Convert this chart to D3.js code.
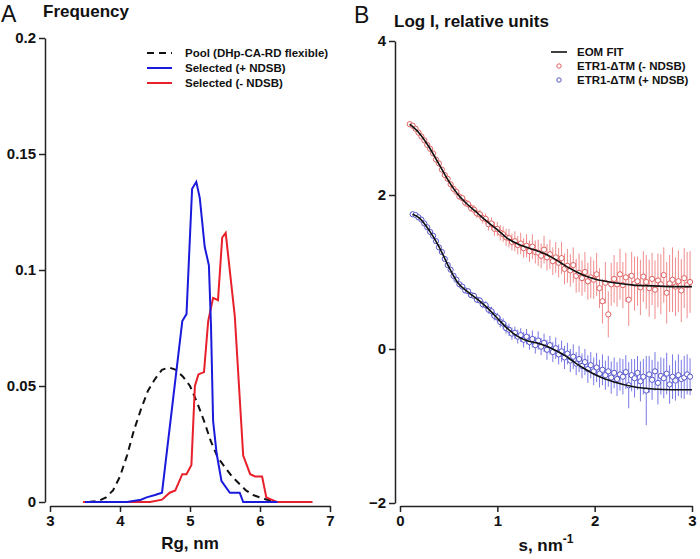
<!DOCTYPE html>
<html><head><meta charset="utf-8">
<script src="https://cdn.jsdelivr.net/npm/d3@7"></script>
<style>html,body{margin:0;padding:0;background:#fff;}svg{display:block;font-family:"Liberation Sans",Arial,sans-serif;}</style>
</head><body>
<script>
// ---- Panel A data ----
const poolRg   = [3.55,3.7,3.8,3.9,4.0,4.1,4.2,4.3,4.4,4.5,4.6,4.7,4.8,4.9,5.0,5.1,5.2,5.3,5.4,5.5,5.6,5.7,5.8,5.9,6.0,6.1,6.2];
const poolFreq = [0,0.0005,0.002,0.005,0.011,0.020,0.031,0.040,0.048,0.053,0.057,0.058,0.057,0.054,0.050,0.043,0.035,0.026,0.019,0.015,0.011,0.008,0.005,0.003,0.002,0.001,0.0005];
const plusRg   = [3.5,3.8,4.1,4.3,4.38,4.5,4.6,4.89,4.95,5.03,5.09,5.14,5.21,5.27,5.30,5.33,5.38,5.45,5.57,5.71,5.76,5.9,6.1,6.25];
const plusFreq = [0,0,0,0.001,0.002,0.003,0.004,0.078,0.081,0.135,0.138,0.131,0.110,0.102,0.076,0.035,0.021,0.009,0.004,0.004,0,0,0,0];
const minusRg  = [3.47,4.0,4.43,4.6,4.71,4.79,4.89,4.95,5.02,5.07,5.12,5.2,5.26,5.33,5.4,5.46,5.51,5.64,5.76,5.86,5.93,6.03,6.09,6.24,6.75];
const minusFreq= [0,0,0,0.001,0.004,0.005,0.012,0.012,0.016,0.050,0.055,0.056,0.078,0.088,0.087,0.114,0.116,0.080,0.020,0.012,0.011,0.011,0.002,0,0];
const freqTicks = [0,0.05,0.1,0.15,0.2];
const freqTickLabels = ["0","0.05","0.1","0.15","0.2"];
const rgTicks = [3,4,5,6,7];
const legendA = ["Pool (DHp-CA-RD flexible)","Selected (+ NDSB)","Selected (- NDSB)"];

// ---- Panel B data ----
const sGrid = [0.10,0.13,0.16,0.19,0.22,0.25,0.28,0.31,0.34,0.37,
0.40,0.43,0.46,0.49,0.52,0.55,0.58,0.61,0.64,0.67,
0.70,0.73,0.76,0.79,0.82,0.85,0.88,0.91,0.94,0.97,
1.00,1.03,1.06,1.09,1.12,1.15,1.18,1.21,1.24,1.27,
1.30,1.33,1.36,1.39,1.42,1.45,1.48,1.51,1.54,1.57,
1.60,1.63,1.66,1.69,1.72,1.75,1.78,1.81,1.84,1.87,
1.90,1.93,1.96,1.99,2.02,2.05,2.08,2.11,2.14,2.17,
2.20,2.23,2.26,2.29,2.32,2.35,2.38,2.41,2.44,2.47,
2.50,2.53,2.56,2.59,2.62,2.65,2.68,2.71,2.74,2.77,
2.80,2.83,2.86,2.89,2.92,2.95,2.98];
const redI = [2.92,2.90,2.86,2.81,2.76,2.71,2.65,2.60,2.54,2.46,
2.41,2.33,2.26,2.21,2.14,2.08,2.04,1.98,1.96,1.90,
1.88,1.83,1.81,1.76,1.75,1.70,1.69,1.62,1.63,1.56,
1.56,1.51,1.49,1.45,1.44,1.39,1.40,1.35,1.37,1.31,
1.34,1.27,1.33,1.26,1.25,1.21,1.29,1.19,1.23,1.14,
1.19,1.12,1.18,1.04,1.08,1.02,1.09,0.95,0.99,0.92,
1.00,0.88,0.93,0.90,0.97,0.79,0.62,0.86,0.45,0.84,
0.91,0.84,0.97,0.83,0.93,0.64,0.95,0.85,0.88,0.80,
0.94,0.87,0.79,0.91,0.77,0.89,0.84,0.96,0.73,0.85,
0.90,0.81,0.88,0.76,0.92,0.83,0.87];
const redErr = [0.02,0.02,0.02,0.02,0.02,0.02,0.02,0.03,0.03,0.03,
0.03,0.03,0.03,0.03,0.03,0.04,0.04,0.04,0.04,0.05,
0.05,0.05,0.06,0.06,0.06,0.07,0.07,0.08,0.08,0.09,
0.09,0.10,0.10,0.11,0.12,0.11,0.13,0.12,0.14,0.13,
0.15,0.14,0.16,0.15,0.17,0.16,0.18,0.17,0.19,0.18,
0.20,0.19,0.21,0.20,0.22,0.21,0.23,0.22,0.25,0.23,
0.26,0.24,0.27,0.25,0.28,0.26,0.29,0.27,0.30,0.28,
0.31,0.29,0.33,0.30,0.32,0.34,0.31,0.35,0.32,0.36,
0.33,0.35,0.37,0.34,0.38,0.35,0.39,0.36,0.40,0.37,
0.42,0.38,0.40,0.41,0.39,0.43,0.40];
const blueI = [null,1.75,1.74,1.71,1.68,1.63,1.58,1.52,1.47,1.40,
1.32,1.26,1.17,1.09,1.03,0.95,0.90,0.84,0.81,0.76,
0.75,0.70,0.69,0.64,0.63,0.58,0.57,0.51,0.49,0.43,
0.41,0.35,0.33,0.27,0.25,0.20,0.21,0.16,0.18,0.12,
0.16,0.09,0.13,0.05,0.11,0.03,0.08,-0.01,0.05,-0.04,
0.01,-0.07,-0.03,-0.11,-0.06,-0.15,-0.10,-0.19,-0.13,-0.22,
-0.17,-0.26,-0.21,-0.29,-0.24,-0.32,-0.27,-0.34,-0.29,-0.37,
-0.31,-0.39,-0.33,-0.36,-0.30,-0.47,-0.34,-0.38,-0.31,-0.42,
-0.36,-0.54,-0.33,-0.40,-0.29,-0.44,-0.35,-0.38,-0.32,-0.46,
-0.36,-0.41,-0.34,-0.39,-0.37,-0.33,-0.36];
const blueErr = [null,0.01,0.01,0.01,0.01,0.01,0.01,0.02,0.02,0.02,
0.02,0.02,0.02,0.02,0.02,0.02,0.03,0.03,0.03,0.03,
0.03,0.04,0.04,0.04,0.04,0.05,0.05,0.05,0.06,0.06,
0.06,0.07,0.07,0.07,0.08,0.08,0.08,0.09,0.09,0.10,
0.10,0.10,0.11,0.11,0.12,0.11,0.12,0.13,0.12,0.13,
0.14,0.13,0.14,0.15,0.14,0.15,0.16,0.15,0.17,0.16,
0.17,0.18,0.17,0.18,0.19,0.18,0.20,0.19,0.20,0.21,
0.20,0.22,0.21,0.23,0.22,0.30,0.21,0.25,0.22,0.26,
0.23,0.45,0.24,0.26,0.25,0.28,0.24,0.26,0.27,0.25,
0.29,0.26,0.27,0.25,0.28,0.26,0.24];
const redFitS  = [0.10,0.20,0.30,0.40,0.50,0.60,0.70,0.80,0.90,1.00,1.10,1.20,1.30,1.40,1.50,1.60,1.70,1.80,1.90,2.00,2.20,2.40,2.60,2.80,3.00];
const redFitI  = [2.92,2.80,2.62,2.40,2.18,2.00,1.87,1.76,1.65,1.55,1.44,1.37,1.32,1.28,1.23,1.16,1.08,1.01,0.95,0.91,0.86,0.83,0.82,0.81,0.81];
const blueFitS = [0.13,0.20,0.30,0.40,0.50,0.60,0.70,0.80,0.90,1.00,1.10,1.20,1.30,1.40,1.50,1.60,1.70,1.80,1.90,2.00,2.20,2.40,2.60,2.80,3.00];
const blueFitI = [1.75,1.70,1.54,1.33,1.07,0.85,0.74,0.64,0.53,0.40,0.27,0.17,0.11,0.08,0.04,-0.02,-0.09,-0.18,-0.26,-0.33,-0.43,-0.49,-0.52,-0.53,-0.53];
const logTicks = [-2,0,2,4];
const sTicks = [0,1,2,3];
const legendB = ["EOM FIT","ETR1-\u0394TM (- NDSB)","ETR1-\u0394TM (+ NDSB)"];

const W = 700, H = 559;
const svg = d3.select("body").append("svg").attr("width", W).attr("height", H);
const axisColor = "#222";

function styleAxis(g){
  g.selectAll("path,line").attr("stroke", axisColor).attr("stroke-width", 1.5);
  g.selectAll("text").attr("font-size", 15).attr("font-weight", "bold").attr("fill", "#111")
    .attr("font-family", "Liberation Sans, Arial, sans-serif");
}

// ===== Panel A =====
const xA = d3.scaleLinear().domain([3,7]).range([50,330]);
const yA = d3.scaleLinear().domain([0,0.2]).range([502,38]);
svg.append("g").attr("transform","translate(0,506)")
  .call(d3.axisBottom(xA).tickValues(rgTicks).tickSize(6).tickSizeOuter(0).tickPadding(3).tickFormat(d3.format("d")))
  .call(styleAxis);
svg.append("g").attr("transform","translate(45,0)")
  .call(d3.axisLeft(yA).tickValues(freqTicks).tickSize(6).tickSizeOuter(0).tickPadding(3).tickFormat((d,i)=>freqTickLabels[i]))
  .call(styleAxis);

const lineA = d3.line().x(d=>xA(d[0])).y(d=>yA(d[1]));
svg.append("path").datum(d3.zip(poolRg,poolFreq)).attr("d",lineA)
  .attr("fill","none").attr("stroke","#111").attr("stroke-width",2).attr("stroke-dasharray","7,5");
svg.append("path").datum(d3.zip(minusRg,minusFreq)).attr("d",lineA)
  .attr("fill","none").attr("stroke","#e8202a").attr("stroke-width",2);
svg.append("path").datum(d3.zip(plusRg,plusFreq)).attr("d",lineA)
  .attr("fill","none").attr("stroke","#1a1adc").attr("stroke-width",2);

svg.append("text").attr("x",1).attr("y",22).attr("font-size",23).attr("fill","#111").text("A");
svg.append("text").attr("x",43).attr("y",17).attr("font-size",17).attr("font-weight","bold").attr("fill","#111").text("Frequency");
svg.append("text").attr("x",190).attr("y",549).attr("text-anchor","middle").attr("font-size",17).attr("font-weight","bold").attr("fill","#111").text("Rg, nm");

const legAColors = ["#111","#1a1adc","#e8202a"];
legendA.forEach((t,i)=>{
  const y = 53 + i*15;
  svg.append("line").attr("x1",147).attr("x2",172).attr("y1",y).attr("y2",y)
    .attr("stroke",legAColors[i]).attr("stroke-width",2).attr("stroke-dasharray", i===0 ? "7,5" : null);
  svg.append("text").attr("x",185).attr("y",y+4).attr("font-size",11.5).attr("font-weight","bold").attr("fill","#111").text(t);
});

// ===== Panel B =====
const xB = d3.scaleLinear().domain([0,3]).range([400,692]);
const yB = d3.scaleLinear().domain([-2,4]).range([503,41]);
svg.append("g").attr("transform","translate(0,506)")
  .call(d3.axisBottom(xB).tickValues(sTicks).tickSize(6).tickSizeOuter(0).tickPadding(3).tickFormat(d3.format("d")))
  .call(styleAxis);
svg.append("g").attr("transform","translate(395,0)")
  .call(d3.axisLeft(yB).tickValues(logTicks).tickSize(6).tickSizeOuter(0).tickPadding(3).tickFormat(d3.format("d")))
  .call(styleAxis);

function drawSeries(vals, errs, barColor, markColor){
  const pts = sGrid.map((s,i)=>({s, v: vals[i], e: errs[i]})).filter(d=>d.v!==null);
  svg.append("g").selectAll("line").data(pts).join("line")
    .attr("x1",d=>xB(d.s)).attr("x2",d=>xB(d.s))
    .attr("y1",d=>yB(d.v-d.e)).attr("y2",d=>yB(d.v+d.e))
    .attr("stroke",barColor).attr("stroke-width",1);
  svg.append("g").selectAll("circle").data(pts).join("circle")
    .attr("cx",d=>xB(d.s)).attr("cy",d=>yB(d.v)).attr("r",2.6)
    .attr("fill","#fff").attr("stroke",markColor).attr("stroke-width",1);
}
const fitLine = d3.line().x(d=>xB(d[0])).y(d=>yB(d[1])).curve(d3.curveMonotoneX);

drawSeries(redI, redErr, "#f08c8c", "#e06060");
svg.append("path").datum(d3.zip(redFitS,redFitI)).attr("d",fitLine)
  .attr("fill","none").attr("stroke","#111").attr("stroke-width",1.6);
drawSeries(blueI, blueErr, "#7878e6", "#5555cc");
svg.append("path").datum(d3.zip(blueFitS,blueFitI)).attr("d",fitLine)
  .attr("fill","none").attr("stroke","#111").attr("stroke-width",1.6);

svg.append("text").attr("x",354).attr("y",23).attr("font-size",23).attr("fill","#111").text("B");
svg.append("text").attr("x",394).attr("y",27).attr("font-size",17).attr("font-weight","bold").attr("fill","#111").text("Log I, relative units");
const xl = svg.append("text").attr("x",546).attr("y",551).attr("text-anchor","middle").attr("font-size",17).attr("font-weight","bold").attr("fill","#111");
xl.append("tspan").text("s, nm");
xl.append("tspan").attr("dy",-8).attr("font-size",12).text("-1");

legendB.forEach((t,i)=>{
  const y = 52 + i*14;
  if(i===0){
    svg.append("line").attr("x1",551).attr("x2",567).attr("y1",y).attr("y2",y).attr("stroke","#111").attr("stroke-width",1.6);
  } else {
    svg.append("circle").attr("cx",559).attr("cy",y).attr("r",2.2).attr("fill","#fff")
      .attr("stroke", i===1 ? "#e06060" : "#5555cc").attr("stroke-width",1);
  }
  svg.append("text").attr("x",577).attr("y",y+4).attr("font-size",11.5).attr("font-weight","bold").attr("fill","#111").text(t);
});
</script>
</body></html>
